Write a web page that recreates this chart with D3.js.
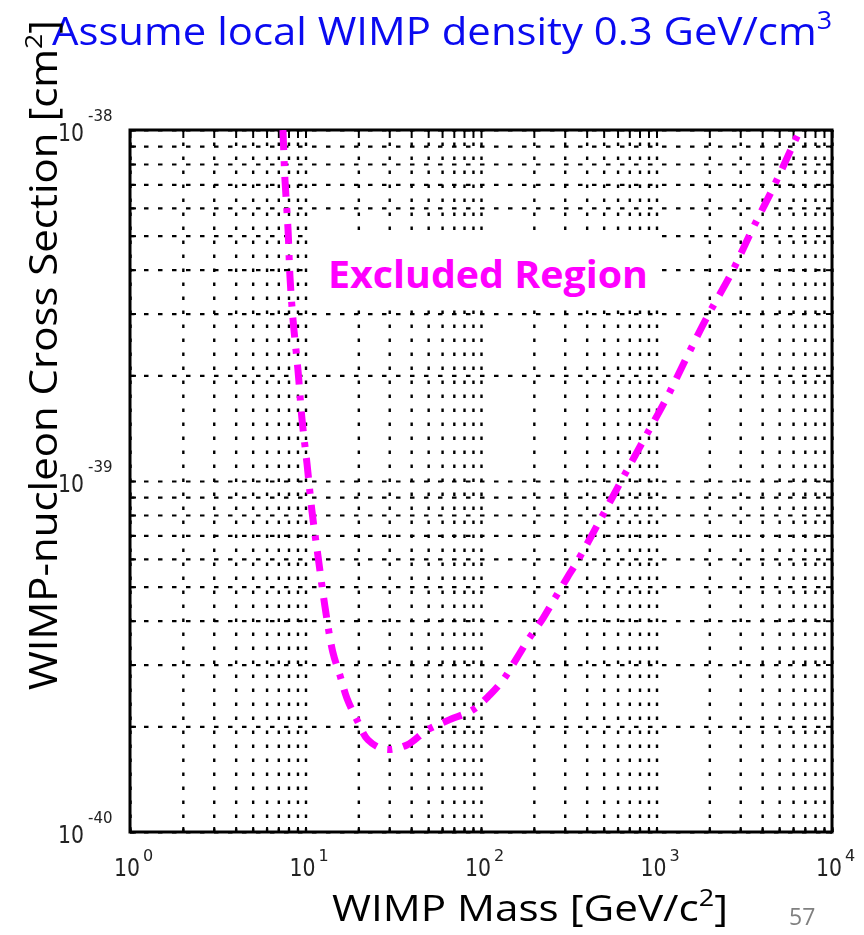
<!DOCTYPE html>
<html>
<head>
<meta charset="utf-8">
<script src="https://cdn.jsdelivr.net/npm/d3@7"></script>
<style>
  html, body { margin: 0; padding: 0; background: #fff; }
  svg { display: block; }
</style>
</head>
<body>
<svg id="chart" width="864" height="935"></svg>
<script>
// Exclusion limit: WIMP mass (GeV/c^2) vs. WIMP-nucleon cross section (cm^2)
const massGeV = [7.44, 7.54, 7.64, 7.95, 8.16, 8.49, 9.06, 9.55, 10.2, 10.9, 11.8, 12.9,
  14.3, 15.7, 17.2, 19.7, 22.7, 28.4, 37.9, 49.2, 64.9, 90.0, 112.5, 133.5, 160, 185,
  226, 264, 309, 352, 477, 636, 860, 1147, 1492, 1940, 2693, 3501, 4611, 5996, 6573];
const crossSection = [1.00e-38, 8.38e-39, 7.20e-39, 5.22e-39, 3.81e-39, 2.88e-39, 2.07e-39,
  1.50e-39, 1.12e-39, 8.16e-40, 6.07e-40, 4.40e-40, 3.26e-40, 2.80e-40, 2.41e-40, 2.08e-40,
  1.83e-40, 1.72e-40, 1.77e-40, 1.95e-40, 2.08e-40, 2.23e-40, 2.46e-40, 2.71e-40, 3.13e-40,
  3.52e-40, 4.07e-40, 4.64e-40, 5.29e-40, 5.88e-40, 7.74e-40, 1.01e-39, 1.33e-39, 1.73e-39,
  2.26e-39, 2.93e-39, 3.94e-39, 5.19e-39, 6.83e-39, 9.06e-39, 1.00e-38];

const xDecades = [1, 10, 100, 1000, 10000];
const xExponents = ["0", "1", "2", "3", "4"];
const yDecades = [1e-40, 1e-39, 1e-38];
const yExponents = ["-40", "-39", "-38"];

const titleText = "Assume local WIMP density 0.3 GeV/cm";
const xTitle = "WIMP Mass [GeV/c";
const yTitle = "WIMP-nucleon Cross Section [cm";
const regionLabel = "Excluded Region";
const pageNumber = "57";

const svg = d3.select("#chart");
const L = 130, R = 832, T = 130, B = 832;

const x = d3.scaleLog().domain([1, 1e4]).range([L, R]);
const y = d3.scaleLog().domain([1e-40, 1e-38]).range([B, T]);

// minor values: 1..9 x each decade
const minorVals = (lo, hi) => {
  const out = [];
  for (let d = lo; d < hi * 0.999; d *= 10)
    for (let k = 1; k <= 9; k++) out.push(k * d);
  out.push(hi);
  return out;
};
const xGridVals = minorVals(1, 1e4);
const yGridVals = minorVals(1e-40, 1e-38);

const defs = svg.append("defs");
defs.append("filter").attr("id", "soft").append("feGaussianBlur").attr("stdDeviation", 0.55);
defs.append("clipPath").attr("id", "plotClip")
  .append("rect").attr("x", L).attr("y", T).attr("width", R - L).attr("height", B - T);

// grid lines
const grid = svg.append("g").attr("filter", "url(#soft)");
grid.append("g")
  .attr("transform", `translate(0,${B})`)
  .call(d3.axisBottom(x).tickValues(xGridVals).tickSizeInner(-(B - T)).tickSizeOuter(0).tickFormat(""))
  .call(g => g.select(".domain").remove())
  .call(g => g.selectAll(".tick line")
    .attr("stroke", "#000").attr("stroke-width", 2.4)
    .attr("stroke-dasharray", "3.5,10.5"));
grid.append("g")
  .attr("transform", `translate(${L},0)`)
  .call(d3.axisLeft(y).tickValues(yGridVals).tickSizeInner(-(R - L)).tickSizeOuter(0).tickFormat(""))
  .call(g => g.select(".domain").remove())
  .call(g => g.selectAll(".tick line")
    .attr("stroke", "#000").attr("stroke-width", 2.2)
    .attr("stroke-dasharray", "4.5,9.5"));

// inward ticks on all four sides
const tickG = svg.append("g").attr("filter", "url(#soft)");
const styleTicks = g => {
  g.select(".domain").remove();
  g.selectAll(".tick line").attr("stroke", "#000").attr("stroke-width", 2);
};
tickG.append("g").attr("transform", `translate(0,${T})`)
  .call(d3.axisTop(x).tickValues(xGridVals).tickSizeInner(-8).tickSizeOuter(0).tickFormat(""))
  .call(styleTicks);
tickG.append("g").attr("transform", `translate(0,${B})`)
  .call(d3.axisBottom(x).tickValues(xGridVals).tickSizeInner(-5).tickSizeOuter(0).tickFormat(""))
  .call(styleTicks);
tickG.append("g").attr("transform", `translate(${L},0)`)
  .call(d3.axisLeft(y).tickValues(yGridVals).tickSizeInner(-6).tickSizeOuter(0).tickFormat(""))
  .call(styleTicks);
tickG.append("g").attr("transform", `translate(${R},0)`)
  .call(d3.axisRight(y).tickValues(yGridVals).tickSizeInner(-6).tickSizeOuter(0).tickFormat(""))
  .call(styleTicks);

// white panel behind the region label
svg.append("rect")
  .attr("x", 310).attr("y", 233).attr("width", 350).attr("height", 72)
  .attr("fill", "#fff");
svg.append("text")
  .attr("x", 328).attr("y", 288)
  .attr("font-family", "'Open Sans', sans-serif")
  .attr("font-weight", "bold").attr("font-size", 38)
  .attr("fill", "#ff00ff")
  .attr("textLength", 320).attr("lengthAdjust", "spacingAndGlyphs")
  .text(regionLabel);

// small legend mark bottom right
svg.append("line")
  .attr("x1", 738).attr("x2", 824).attr("y1", 815).attr("y2", 815)
  .attr("stroke", "#111").attr("stroke-width", 4)
  .attr("stroke-dasharray", "9,2,5,3,12,2,7,2,10,3,8,2")
  .attr("filter", "url(#soft)");

// frame
svg.append("rect")
  .attr("x", L).attr("y", T).attr("width", R - L).attr("height", B - T)
  .attr("fill", "none").attr("stroke", "#000").attr("stroke-width", 3);

// exclusion curve
const line = d3.line()
  .x((d, i) => x(massGeV[i]))
  .y((d, i) => y(crossSection[i]))
  .curve(d3.curveCatmullRom);
svg.append("path")
  .datum(massGeV)
  .attr("clip-path", "url(#plotClip)")
  .attr("d", line)
  .attr("fill", "none")
  .attr("stroke", "#ff00ff")
  .attr("stroke-width", 7)
  .attr("stroke-dasharray", "20,11,5,11");

// tick labels
const tickFont = "'DejaVu Sans', sans-serif";
const xLab = svg.append("g").attr("fill", "#222").attr("filter", "url(#soft)");
xDecades.forEach((v, i) => {
  const t = xLab.append("text")
    .attr("x", x(v) - 16).attr("y", 876)
    .attr("font-family", tickFont).attr("font-size", 24);
  t.append("tspan").attr("textLength", 26).attr("lengthAdjust", "spacingAndGlyphs").text("10");
  t.append("tspan").attr("dx", 3).attr("dy", -15).attr("font-size", 16).text(xExponents[i]);
});
const yLab = svg.append("g").attr("fill", "#222").attr("filter", "url(#soft)");
yDecades.forEach((v, i) => {
  const t = yLab.append("text")
    .attr("x", 58).attr("y", y(v) + 11)
    .attr("font-family", tickFont).attr("font-size", 24);
  t.append("tspan").attr("textLength", 26).attr("lengthAdjust", "spacingAndGlyphs").text("10");
  t.append("tspan").attr("dx", 4).attr("dy", -20).attr("font-size", 15).text(yExponents[i]);
});

// titles
const titleFont = "'Open Sans', 'Noto Sans', sans-serif";
const title = svg.append("text")
  .attr("x", 52).attr("y", 45)
  .attr("font-family", titleFont).attr("font-size", 39)
  .attr("fill", "#0a0af0")
  .attr("textLength", 780).attr("lengthAdjust", "spacingAndGlyphs");
title.append("tspan").text(titleText);
title.append("tspan").attr("dy", -16).attr("font-size", 25).text("3");

const xt = svg.append("text")
  .attr("x", 332).attr("y", 921)
  .attr("font-family", titleFont).attr("font-size", 36)
  .attr("fill", "#000")
  .attr("textLength", 396).attr("lengthAdjust", "spacingAndGlyphs");
xt.append("tspan").text(xTitle);
xt.append("tspan").attr("dy", -15).attr("font-size", 23).text("2");
xt.append("tspan").attr("dy", 15).text("]");

svg.append("text")
  .attr("x", 789).attr("y", 925)
  .attr("font-family", titleFont).attr("font-size", 23)
  .attr("fill", "#808080")
  .text(pageNumber);

const yt = svg.append("text")
  .attr("transform", "translate(57,690) rotate(-90)")
  .attr("font-family", titleFont).attr("font-size", 38)
  .attr("fill", "#000")
  .attr("textLength", 670).attr("lengthAdjust", "spacingAndGlyphs");
yt.append("tspan").text(yTitle);
yt.append("tspan").attr("dy", -15).attr("font-size", 24).text("2");
yt.append("tspan").attr("dy", 15).text("]");
</script>
</body>
</html>
